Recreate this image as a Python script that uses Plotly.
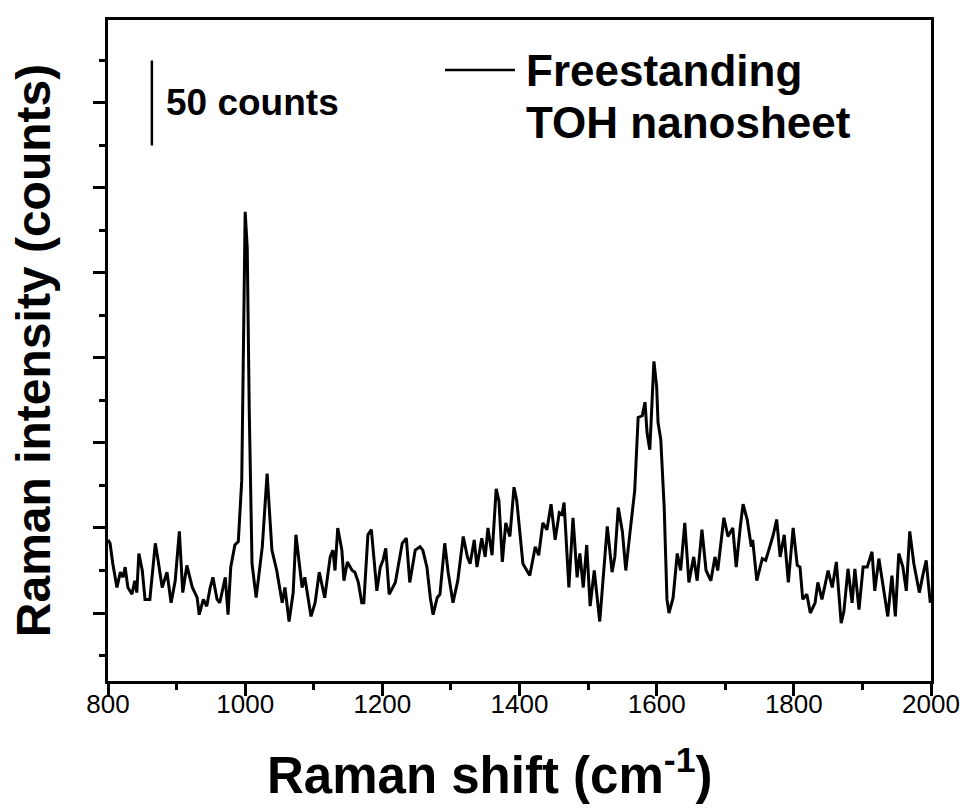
import plotly.graph_objects as go

# Raman spectrum of a freestanding TOH nanosheet
wavenumber = [
    800, 803, 807, 813, 818, 822, 825, 829, 835, 839, 842, 845, 850, 854, 861,
    869, 873, 879, 886, 892, 898, 904, 909, 915, 923, 930, 933, 939, 944, 949,
    953, 959, 963, 971, 975, 979, 985, 990, 995, 1000, 1003, 1006, 1010, 1016,
    1025, 1032, 1039, 1046, 1054, 1058, 1064, 1070, 1074, 1083, 1087, 1096,
    1102, 1108, 1116, 1124, 1128, 1131, 1135, 1141, 1144, 1149, 1156, 1160,
    1165, 1170, 1173, 1179, 1184, 1188, 1192, 1197, 1201, 1205, 1210, 1219,
    1229, 1235, 1240, 1248, 1255, 1259, 1265, 1270, 1274, 1280, 1284, 1291,
    1296, 1303, 1310, 1318, 1324, 1328, 1334, 1338, 1345, 1350, 1354, 1360,
    1366, 1370, 1375, 1380, 1386, 1392, 1396, 1405, 1415, 1423, 1428, 1434,
    1440, 1446, 1452, 1458, 1462, 1465, 1472, 1478, 1484, 1488, 1493, 1498,
    1503, 1509, 1517, 1528, 1535, 1539, 1544, 1550, 1555, 1561, 1568, 1573,
    1579, 1583, 1586, 1590, 1595, 1596, 1600, 1602, 1606, 1611, 1615, 1618,
    1624, 1630, 1635, 1641, 1647, 1654, 1659, 1666, 1672, 1679, 1685, 1689,
    1698, 1704, 1711, 1716, 1722, 1726, 1732, 1738, 1740, 1746, 1754, 1759,
    1765, 1770, 1775, 1780, 1786, 1792, 1799, 1805, 1809, 1813, 1819, 1824,
    1831, 1835, 1841, 1848, 1850, 1856, 1862, 1869, 1873, 1879, 1885, 1889,
    1895, 1901, 1907, 1914, 1918, 1924, 1932, 1937, 1943, 1948, 1953, 1959,
    1964, 1969, 1975, 1983, 1988, 1993, 1996, 1999,
]
intensity = [
    43, 41, 29, 15, 24, 21, 27, 15, 11, 19, 12, 35, 25, 8, 8,
    41, 31, 15, 24, 6, 19, 48, 12, 28, 15, 9, -1, 8, 4, 15,
    21, 8, 6, 21, -1, 27, 40, 42, 78, 236, 215, 118, 29, 9,
    39, 82, 37, 25, 6, 15, -5, 12, 46, 15, 21, -2,
    6, 24, 9, 33, 37, 25, 50, 37, 19, 30, 25, 24,
    18, 6, 6, 46, 49, 31, 13, 27, 31, 38, 11, 18,
    41, 44, 18, 37, 39, 37, 27, 9, -1, 9, 11, 41,
    24, 6, 19, 45, 33, 29, 43, 27, 44, 33, 50, 34,
    73, 66, 30, 53, 45, 74, 66, 29, 22, 39, 34, 53,
    49, 64, 43, 59, 58, 65, 15, 56, 21, 35, 15, 40,
    4, 25, -5, 51, 24, 33, 62, 48, 25, 47, 72, 115,
    116, 124, 106, 96, 137, 148, 133, 112, 102, 62, 8, 0,
    9, 35, 25, 53, 18, 33, 19, 49, 25, 19, 33, 25,
    56, 45, 50, 27, 51, 64, 55, 39, 43, 19, 32, 31,
    39, 46, 55, 33, 46, 18, 50, 28, 27, 8, 11, 0,
    6, 18, 8, 21, 25, 15, 30, -6, 1, 26, 6, 26,
    2, 27, 27, 36, 13, 32, 12, -2, 22, -2, 35, 27,
    13, 48, 29, 12, 22, 31, 18, 6,
]

x_ticks = [800, 1000, 1200, 1400, 1600, 1800, 2000]
x_range = [800, 2000]
y_range = [-40, 348.8]

# scale bar: 50 counts, placed in the upper-left corner
scale_bar_x = 864
scale_bar_y = [275, 325]
scale_bar_label = "50 counts"

legend_lines = ["Freestanding", "TOH nanosheet"]
x_title = "Raman shift (cm<sup>-1</sup>)"
y_title = "Raman intensity (counts)"

FONT = "Liberation Sans, Arial, sans-serif"

fig = go.Figure()
fig.add_trace(go.Scatter(
    x=wavenumber, y=intensity, mode="lines",
    line=dict(color="black", width=3),
    showlegend=False,
))

# vertical scale bar
fig.add_shape(type="line", xref="x", yref="y",
              x0=scale_bar_x, x1=scale_bar_x, y0=scale_bar_y[0], y1=scale_bar_y[1],
              line=dict(color="black", width=2.5))
fig.add_annotation(x=882, y=sum(scale_bar_y) / 2, xref="x", yref="y",
                   text=scale_bar_label, showarrow=False, xanchor="left", yanchor="middle",
                   font=dict(family=FONT, size=37, color="black", weight="bold"))

# hand-made legend: line sample plus two-line label
fig.add_shape(type="line", xref="paper", yref="paper",
              x0=0.4095, x1=0.4945, y0=0.9244, y1=0.9244,
              line=dict(color="black", width=2.5))
for text, ypos in zip(legend_lines, [0.924, 0.845]):
    fig.add_annotation(x=0.506, y=ypos, xref="paper", yref="paper",
                       text=text, showarrow=False, xanchor="left", yanchor="middle",
                       font=dict(family=FONT, size=44, color="black", weight="bold"))

# x-axis title, set slightly left of the plot centre
fig.add_annotation(x=0.464, y=-0.1377, xref="paper", yref="paper",
                   text=x_title, showarrow=False, xanchor="center", yanchor="middle",
                   font=dict(family=FONT, size=51, color="black", weight="bold"))

axis_common = dict(
    showline=True, linewidth=2.5, linecolor="black", mirror=True,
    ticks="outside", ticklen=12, tickwidth=2.5, tickcolor="black",
    showgrid=False, zeroline=False, automargin=False,
)

fig.update_layout(
    width=964, height=811,
    margin=dict(l=108, r=33, t=20, b=130),
    paper_bgcolor="white", plot_bgcolor="white",
    font=dict(family=FONT, color="black"),
    xaxis=dict(
        range=x_range, tickvals=x_ticks,
        minor=dict(dtick=100, tick0=800, ticks="outside", ticklen=6, tickwidth=2.5, tickcolor="black"),
        tickfont=dict(family=FONT, size=26, color="black"),
        ticklabeloverflow="allow", ticklabelstandoff=-14,
        **axis_common,
    ),
    yaxis=dict(
        range=y_range, tick0=0, dtick=50, showticklabels=False,
        minor=dict(dtick=25, tick0=0, ticks="outside", ticklen=6, tickwidth=2.5, tickcolor="black"),
        title=dict(text=y_title, standoff=28,
                   font=dict(family=FONT, size=48, color="black", weight="bold")),
        **axis_common,
    ),
)

fig.write_html("out.html")
